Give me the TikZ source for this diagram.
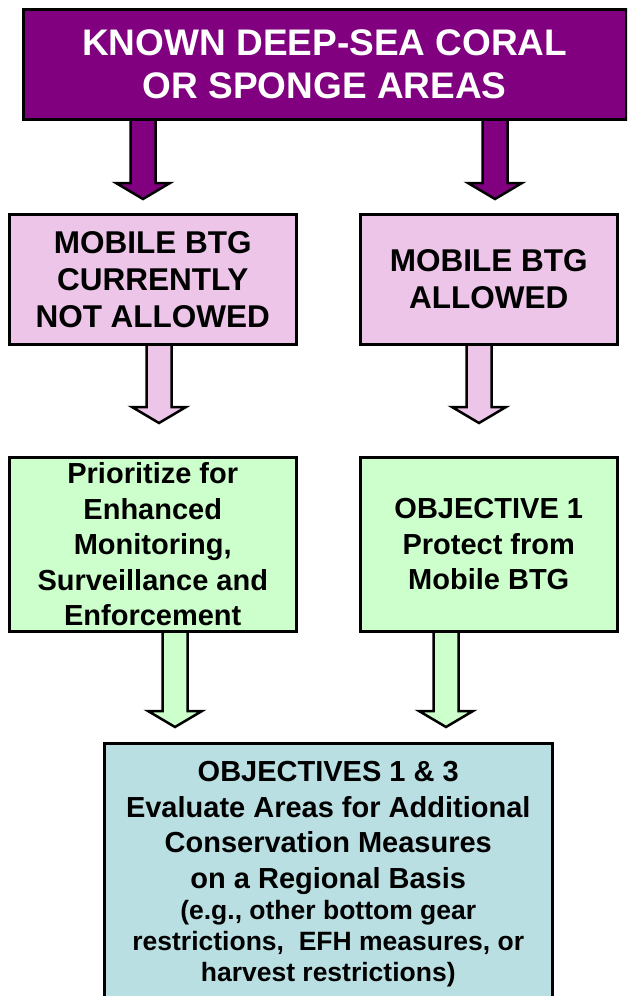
\documentclass[tikz,border=0pt]{standalone}
\usepackage{fontspec}
\setmainfont{Liberation Sans}
\usepackage{tikz}
\usetikzlibrary{calc,backgrounds}
\definecolor{deeppurple}{RGB}{128,0,128}
\definecolor{lightpink}{RGB}{236,197,233}
\definecolor{lightgreen}{RGB}{204,255,204}
\definecolor{lightteal}{RGB}{186,223,227}
% block arrow: colour, x, from node, to node, gap above the lower box
\newcommand{\blockarrow}[5]{%
  \draw[arrowline,fill=#1] let \p1=(#3.south), \p2=(#4.north) in
    (#2pt-12.5pt,\y1+6pt) -- (#2pt-12.5pt,\y2+#5pt+16pt) -- (#2pt-27pt,\y2+#5pt+16pt)
    -- (#2pt,\y2+#5pt) -- (#2pt+27pt,\y2+#5pt+16pt) -- (#2pt+12.5pt,\y2+#5pt+16pt)
    -- (#2pt+12.5pt,\y1+6pt) -- cycle;}

\begin{document}
\begin{tikzpicture}[x=1pt,y=-1pt,
  box/.style={draw,line width=2.5pt,anchor=north west,align=center,inner sep=0pt},
  arrowline/.style={draw,line width=2.5pt,line join=miter},
  big/.style={font=\bfseries\fontsize{37}{43}\selectfont},
  mid/.style={font=\bfseries\fontsize{31.5}{37}\selectfont},
  small/.style={font=\bfseries\fontsize{29}{35.5}\selectfont}]
  \clip (0,0) rectangle (627,996);
  % top box
  \node[box,big,fill=deeppurple,text=white,minimum width=603pt,minimum height=110pt] (known) at (22,8)
    {KNOWN DEEP-SEA CORAL\\OR SPONGE AREAS};
  % second row
  \node[box,mid,fill=lightpink,minimum width=287pt,minimum height=130pt] (notallowed) at (8,213)
    {MOBILE BTG\\CURRENTLY\\NOT ALLOWED};
  \node[box,mid,fill=lightpink,minimum width=257pt,minimum height=130pt] (allowed) at (359,213)
    {MOBILE BTG\\ALLOWED};
  % third row
  \node[box,small,fill=lightgreen,minimum width=287pt,minimum height=174pt] (prioritize) at (8,456)
    {Prioritize for\\Enhanced\\Monitoring,\\Surveillance and\\Enforcement};
  \node[box,small,fill=lightgreen,minimum width=257pt,minimum height=174pt] (protect) at (359,456)
    {OBJECTIVE 1\\Protect from\\Mobile BTG};
  % bottom box
  \node[box,align=flush center,font=\bfseries,text width=440pt,fill=lightteal,minimum width=448pt,minimum height=262pt] (evaluate) at (103,742)
    {{\fontsize{29}{35.5}\selectfont OBJECTIVES 1 \& 3\\Evaluate Areas for Additional\\
      Conservation Measures\\on a Regional Basis\par}
     {\fontsize{26.5}{31}\selectfont (e.g., other bottom gear\\restrictions,\ \ EFH measures, or\\
      harvest restrictions)\par}};
  % arrows
  \begin{scope}[on background layer]
    \blockarrow{deeppurple}{143}{known}{notallowed}{14}
    \blockarrow{deeppurple}{495}{known}{allowed}{14}
    \blockarrow{lightpink}{159}{notallowed}{prioritize}{33}
    \blockarrow{lightpink}{479}{allowed}{protect}{33}
    \blockarrow{lightgreen}{175}{prioritize}{evaluate}{15}
    \blockarrow{lightgreen}{446}{protect}{evaluate}{15}
  \end{scope}
\end{tikzpicture}
\end{document}
